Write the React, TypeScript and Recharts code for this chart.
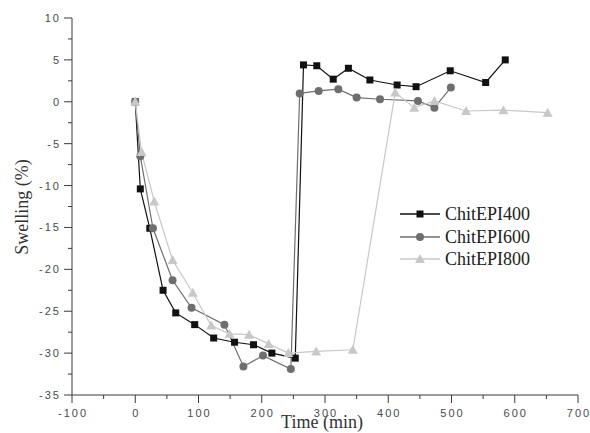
import React from 'react';
import { LineChart, Line, XAxis, YAxis, Label } from 'recharts';

const time400 = [0, 8, 23, 44, 64, 94, 124, 157, 187, 216, 253, 266, 287, 313, 337, 371, 414, 444, 498, 554, 585];
const swell400 = [0, -10.4, -15.1, -22.5, -25.2, -26.6, -28.2, -28.7, -29.0, -30.0, -30.6, 4.4, 4.3, 2.7, 4.0, 2.6, 2.0, 1.8, 3.7, 2.3, 5.0];

const time600 = [0, 8, 28, 59, 89, 141, 171, 202, 246, 260, 290, 321, 350, 387, 447, 473, 499];
const swell600 = [0, -6.5, -15.1, -21.3, -24.6, -26.6, -31.6, -30.3, -31.9, 1.0, 1.3, 1.5, 0.5, 0.3, 0.1, -0.7, 1.7];

const time800 = [0, 10, 30, 59, 91, 120, 149, 180, 211, 242, 286, 344, 411, 441, 473, 523, 582, 652];
const swell800 = [0, -6.0, -11.9, -18.9, -22.8, -26.7, -27.7, -27.8, -28.9, -30.0, -29.8, -29.6, 1.1, -0.7, 0.1, -1.1, -1.0, -1.3];

const seriesNames = ['ChitEPI400', 'ChitEPI600', 'ChitEPI800'];
const xTicks = [-100, -50, 0, 50, 100, 150, 200, 250, 300, 350, 400, 450, 500, 550, 600, 650, 700];
const yTicks = [-35, -32.5, -30, -27.5, -25, -22.5, -20, -17.5, -15, -12.5, -10, -7.5, -5, -2.5, 0, 2.5, 5, 7.5, 10];

const toData = (xs: number[], ys: number[]) => xs.map((t, i) => ({ t, v: ys[i] }));
const data400 = toData(time400, swell400);
const data600 = toData(time600, swell600);
const data800 = toData(time800, swell800);

const colors = ['#111111', '#6e6e6e', '#c8c8c8'];

const AXIS = '#3a3a3a';
const TICKTXT = '#4a4a4a';
const LS = 2;

const Square = (props: any) => {
  const { cx, cy, color } = props;
  if (cx == null || cy == null) return null;
  return <rect x={cx - 3.5} y={cy - 3.5} width={7} height={7} fill={color} />;
};
const Circle = (props: any) => {
  const { cx, cy, color } = props;
  if (cx == null || cy == null) return null;
  return <circle cx={cx} cy={cy} r={4} fill={color} />;
};
const Tri = (props: any) => {
  const { cx, cy, color } = props;
  if (cx == null || cy == null) return null;
  return <polygon points={`${cx},${cy - 5} ${cx - 5},${cy + 4} ${cx + 5},${cy + 4}`} fill={color} />;
};
const markers = [Square, Circle, Tri];

const YTick = (props: any) => {
  const { x, y, payload } = props;
  const v = payload.value;
  const major = v % 5 === 0;
  return (
    <g>
      <line x1={x} x2={x - (major ? 8 : 4)} y1={y} y2={y} stroke={AXIS} strokeWidth={1} />
      {major && (
        <text x={x - 13 + LS} y={y + 4} textAnchor="end" letterSpacing={LS} fontFamily="Liberation Sans, Arial, sans-serif" fontSize={11} fill={TICKTXT}>
          {v}
        </text>
      )}
    </g>
  );
};

const XTick = (props: any) => {
  const { x, y, payload } = props;
  const v = payload.value;
  const major = v % 100 === 0;
  return (
    <g>
      <line x1={x} x2={x} y1={y} y2={y + (major ? 8 : 4)} stroke={AXIS} strokeWidth={1} />
      {major && (
        <text x={x + LS / 2} y={y + 22} textAnchor="middle" letterSpacing={LS} fontFamily="Liberation Sans, Arial, sans-serif" fontSize={11} fill={TICKTXT}>
          {v}
        </text>
      )}
    </g>
  );
};

const LegendBox = () => (
  <div style={{ position: 'absolute', left: 400, top: 203, fontFamily: 'Liberation Serif, Times New Roman, serif', fontSize: 18, color: '#222' }}>
    {seriesNames.map((n, i) => {
      const M = markers[i];
      return (
        <div key={n} style={{ display: 'flex', alignItems: 'center', height: 22.5 }}>
          <svg width={45} height={14} style={{ display: 'block' }}>
            <line x1={0} x2={40} y1={7} y2={7} stroke={colors[i]} strokeWidth={1.5} />
            <M cx={20} cy={7} color={colors[i]} />
          </svg>
          <span style={{ lineHeight: '18px' }}>{n}</span>
        </div>
      );
    })}
  </div>
);

export default function App() {
  return (
    <div style={{ position: 'absolute', left: 0, top: 0, width: 590, height: 433, background: '#fff' }}>
      <LineChart width={590} height={433} margin={{ top: 18, right: 12, left: 0, bottom: 0 }}>
        <XAxis
          type="number"
          dataKey="t"
          domain={[-100, 700]}
          ticks={xTicks}
          interval={0}
          allowDataOverflow
          height={38}
          stroke={AXIS}
          tickLine={false}
          tickSize={0}
          tickMargin={0}
          tick={<XTick />}
        >
          <Label
            content={(p: any) => {
              const vb = p.viewBox;
              return (
                <text x={322} y={vb.y + 33} textAnchor="middle" fontFamily="Liberation Serif, Times New Roman, serif" fontSize={18} fill="#333">
                  Time (min)
                </text>
              );
            }}
          />
        </XAxis>
        <YAxis
          type="number"
          domain={[-35, 10]}
          ticks={yTicks}
          interval={0}
          allowDataOverflow
          width={72}
          stroke={AXIS}
          tickLine={false}
          tickSize={0}
          tickMargin={0}
          tick={<YTick />}
        >
          <Label
            content={() => {
              const cy = 207;
              const cx = 28;
              return (
                <text x={cx} y={cy} transform={`rotate(-90 ${cx} ${cy})`} textAnchor="middle" fontFamily="Liberation Serif, Times New Roman, serif" fontSize={18} fill="#333">
                  Swelling (%)
                </text>
              );
            }}
          />
        </YAxis>
        <Line data={data400} dataKey="v" name={seriesNames[0]} stroke={colors[0]} strokeWidth={1.2} dot={<Square color={colors[0]} />} isAnimationActive={false} />
        <Line data={data600} dataKey="v" name={seriesNames[1]} stroke={colors[1]} strokeWidth={1.2} dot={<Circle color={colors[1]} />} isAnimationActive={false} />
        <Line data={data800} dataKey="v" name={seriesNames[2]} stroke={colors[2]} strokeWidth={1.2} dot={<Tri color={colors[2]} />} isAnimationActive={false} />
      </LineChart>
      <LegendBox />
    </div>
  );
}
